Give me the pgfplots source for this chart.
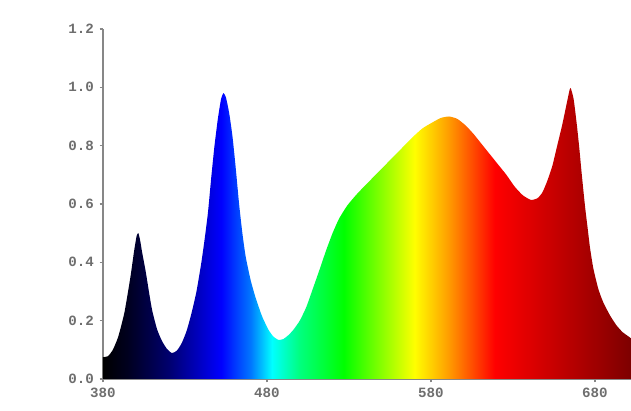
\documentclass[border=0pt]{standalone}
\usepackage{pgfplots}
\pgfplotsset{compat=1.18}
\usepackage{fontspec}
\newfontfamily\tickfont{Liberation Mono}

\definecolor{axgray}{RGB}{135,135,135}
\definecolor{labgray}{RGB}{110,110,110}

% spectrum colours along x (380..702 nm mapped to 25bp..75bp)
\pgfdeclarehorizontalshading{spectrum}{100bp}{
  rgb(0bp)=(0,0,0);
  rgb(25bp)=(0,0,0);
  rgb(27.3bp)=(0,0,0.12);
  rgb(31.2bp)=(0,0,0.43);
  rgb(36.2bp)=(0,0,1);
  rgb(39bp)=(0,0.47,1);
  rgb(41bp)=(0,1,1);
  rgb(43.6bp)=(0,1,0.5);
  rgb(47.8bp)=(0,1,0);
  rgb(54.5bp)=(1,1,0);
  rgb(57.6bp)=(1,0.63,0);
  rgb(59.9bp)=(1,0.31,0);
  rgb(62.1bp)=(1,0,0);
  rgb(67.7bp)=(0.78,0,0);
  rgb(75bp)=(0.49,0,0);
  rgb(100bp)=(0.49,0,0)}

\begin{document}
\begin{tikzpicture}
\path[use as bounding box] (-61.8pt,-19.2pt) rectangle (316.8pt,227.4pt);
\begin{axis}[
    at={(0,0)}, anchor=south west,
    scale only axis,
    width=316.8pt, height=210pt,
    xmin=380, xmax=702,
    ymin=0, ymax=1.2,
    axis x line=bottom, axis y line=left,
    axis line style={-, axgray, line width=1pt},
    xtick={380,480,580,680},
    ytick={0,0.2,...,1.2},
    tick align=outside,
    major tick length=2pt,
    tick style={axgray, line width=0.8pt},
    ticklabel style={font=\tickfont\bfseries\fontsize{8.5}{10}\selectfont, text=labgray},
    /pgf/number format/assume math mode=true,
    yticklabel style={/pgf/number format/fixed, /pgf/number format/fixed zerofill,
        /pgf/number format/precision=1},
    xticklabel style={/pgf/number format/1000 sep={}},
    clip=true,
]
\addplot[draw=none, shading=spectrum, smooth, tension=0.35] coordinates {
(380,0.075) (383,0.078) (386,0.10) (389,0.14) (391,0.18) (393,0.226)
(395,0.29) (397,0.36) (399,0.44) (400.5,0.49) (401.5,0.50) (402.5,0.48)
(404,0.43) (406,0.37) (408,0.30) (410,0.235) (413,0.17) (416,0.13)
(419,0.103) (422,0.089) (425,0.097) (428,0.123) (431,0.165) (434,0.226)
(437,0.30) (440,0.40) (442,0.48) (444,0.57) (446,0.69) (448,0.80)
(450,0.89) (452,0.96) (453.5,0.98) (455,0.965) (457,0.91) (459,0.83)
(461,0.72) (463,0.60) (465,0.50) (467,0.42) (470,0.34) (473,0.28)
(477,0.215) (481,0.168) (484,0.145) (487,0.134) (490,0.137) (493,0.15)
(496,0.168) (500,0.20) (504,0.247) (508,0.31) (512,0.374) (516,0.44)
(520,0.50) (524,0.55) (529,0.595) (535,0.635) (541,0.67) (548,0.71)
(555,0.75) (562,0.79) (569,0.83) (575,0.86) (581,0.88) (586,0.895)
(591,0.90) (596,0.892) (601,0.87) (606,0.84) (611,0.805) (616,0.77)
(621,0.735) (626,0.70) (631,0.66) (636,0.63) (641,0.614) (645,0.62)
(648,0.64) (651,0.68) (654,0.73) (657,0.80) (660,0.87) (663,0.95)
(665,0.998) (667,0.96) (669,0.87) (670.5,0.79) (672,0.70) (674,0.59)
(675.5,0.52) (677,0.45) (679,0.38) (682,0.31) (685,0.264) (689,0.22)
(693,0.185) (697,0.16) (702,0.14)
} \closedcycle;
\end{axis}
\end{tikzpicture}
\end{document}
